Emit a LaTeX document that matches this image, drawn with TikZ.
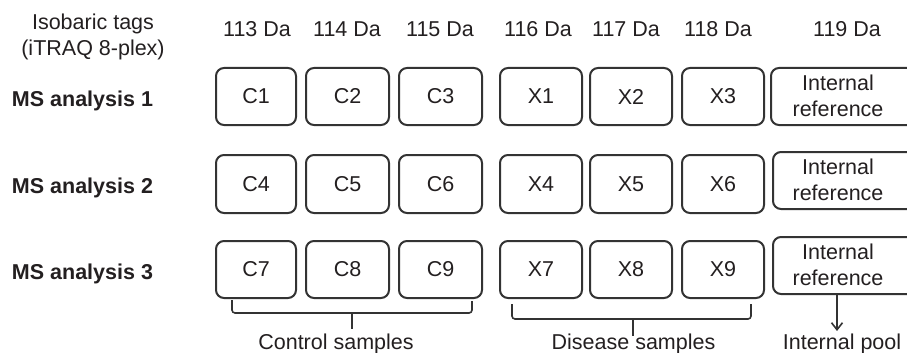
\documentclass[tikz,border=0pt]{standalone}
\usepackage{fontspec}
\setmainfont{Liberation Sans}
\usetikzlibrary{arrows.meta,calc}
\definecolor{ink}{HTML}{231F20}
\definecolor{edge}{HTML}{333333}
\begin{document}
\begin{tikzpicture}[x=1pt,y=-1pt,
  every node/.style={text=ink,font=\fontsize{21.5}{26}\selectfont},
  samplebox/.style={draw=edge,line width=2pt,rounded corners=8pt,inner sep=0pt},
  lbl/.style={anchor=base,inner sep=0pt},
  rowlbl/.style={anchor=base,inner sep=0pt,font=\fontsize{21.5}{24}\selectfont\bfseries},
  brace/.style={draw=edge,line width=1.6pt,rounded corners=3pt},
  arr/.style={draw=edge,line width=1.6pt,-{Straight Barb[length=7pt,width=11pt,line width=1.6pt]}}]
\useasboundingbox (0,0) rectangle (907,353);
% header
\node[align=center,inner sep=0pt] (iso) at (93,37) {Isobaric tags\\(iTRAQ 8-plex)};
\node[lbl] (m113) at (257,37) {113 Da};
\node[lbl] (m114) at (347,37) {114 Da};
\node[lbl] (m115) at (440,37) {115 Da};
\node[lbl] (m116) at (538,37) {116 Da};
\node[lbl] (m117) at (626,37) {117 Da};
\node[lbl] (m118) at (718,37) {118 Da};
\node[lbl] (m119) at (847,37) {119 Da};
% row labels
\node[rowlbl] (ms1) at (82.5,106) {MS analysis 1};
\node[rowlbl] (ms2) at (82.5,193) {MS analysis 2};
\node[rowlbl] (ms3) at (82.5,279) {MS analysis 3};
% row 1 (y 68-125)
\node[samplebox,minimum width=80pt,minimum height=57pt] (C1) at (256,96.5) {C1};
\node[samplebox,minimum width=83pt,minimum height=57pt] (C2) at (347.5,96.5) {C2};
\node[samplebox,minimum width=83pt,minimum height=57pt] (C3) at (440.5,96.5) {C3};
\node[samplebox,minimum width=82pt,minimum height=57pt] (X1) at (541,96.5) {X1};
\node[samplebox,minimum width=82pt,minimum height=57pt] (X2) at (631,96.5) {X2};
\node[samplebox,minimum width=82pt,minimum height=57pt] (X3) at (723,96.5) {X3};
\node[samplebox,minimum width=144pt,minimum height=57pt] (IR1) at (843,96.5) {};
\node[align=center,inner sep=0pt] (IR1t) at (838,96) {Internal\\reference};
% row 2 (y 155-213)
\node[samplebox,minimum width=80pt,minimum height=58pt] (C4) at (256,184) {C4};
\node[samplebox,minimum width=83pt,minimum height=58pt] (C5) at (347.5,184) {C5};
\node[samplebox,minimum width=83pt,minimum height=58pt] (C6) at (440.5,184) {C6};
\node[samplebox,minimum width=82pt,minimum height=58pt] (X4) at (541,184) {X4};
\node[samplebox,minimum width=82pt,minimum height=58pt] (X5) at (631,184) {X5};
\node[samplebox,minimum width=82pt,minimum height=58pt] (X6) at (723,184) {X6};
\node[samplebox,minimum width=142pt,minimum height=57pt] (IR2) at (844,180.5) {};
\node[align=center,inner sep=0pt] (IR2t) at (838,180) {Internal\\reference};
% row 3 (y 241-298)
\node[samplebox,minimum width=80pt,minimum height=57pt] (C7) at (256,269.5) {C7};
\node[samplebox,minimum width=83pt,minimum height=57pt] (C8) at (347.5,269.5) {C8};
\node[samplebox,minimum width=83pt,minimum height=57pt] (C9) at (440.5,269.5) {C9};
\node[samplebox,minimum width=82pt,minimum height=57pt] (X7) at (541,269.5) {X7};
\node[samplebox,minimum width=82pt,minimum height=57pt] (X8) at (631,269.5) {X8};
\node[samplebox,minimum width=82pt,minimum height=57pt] (X9) at (723,269.5) {X9};
\node[samplebox,minimum width=142pt,minimum height=57pt] (IR3) at (844,265.5) {};
\node[align=center,inner sep=0pt] (IR3t) at (838,265) {Internal\\reference};
% bottom labels
\node[lbl] (ctrl) at (336,349) {Control samples};
\node[lbl] (dis) at (633.5,349) {Disease samples};
\node[lbl] (pool) at (842,349) {Internal pool};
% brackets
\coordinate (cL) at ($(C7.south west)+(17,1)$);
\coordinate (cR) at ($(C9.south east)+(-11,2)$);
\coordinate (cM) at (352,313);
\draw[brace] (cL) -- (cL |- cM) -- (cR |- cM) -- (cR);
\draw[draw=edge,line width=1.8pt] (cM) -- ++(0,16);
\coordinate (dL) at ($(X7.south west)+(13,5)$);
\coordinate (dR) at ($(X9.south east)+(-14,5)$);
\coordinate (dM) at (633,319);
\draw[brace] (dL) -- (dL |- dM) -- (dR |- dM) -- (dR);
\draw[draw=edge,line width=1.8pt] (dM) -- ++(0,17);
% arrow
\coordinate (aTop) at (837,295);
\coordinate (aBot) at (837,331);
\draw[arr] (aTop) -- (aBot);
\end{tikzpicture}
\end{document}
